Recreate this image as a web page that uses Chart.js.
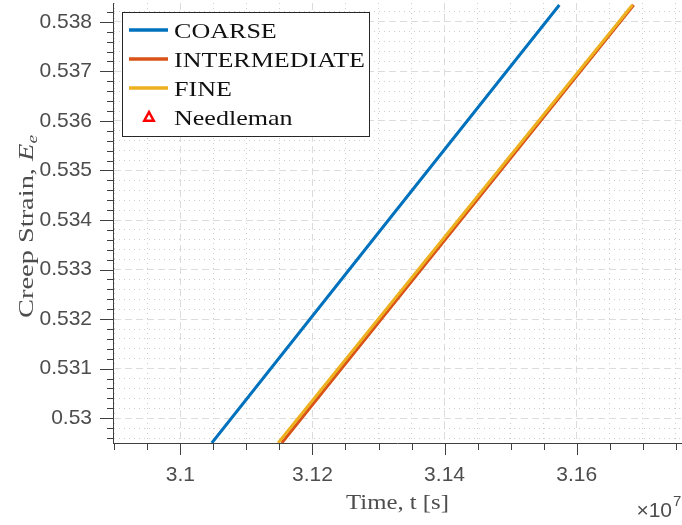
<!DOCTYPE html>
<html>
<head>
<meta charset="utf-8">
<script src="https://cdn.jsdelivr.net/npm/chart.js@4/dist/chart.umd.min.js"></script>
<style>
    html, body { margin: 0; padding: 0; background: #fff; }
    #wrap { width: 682px; height: 525px; }
</style>
</head>
<body>
<div id="wrap"><canvas id="creepChart" width="682" height="525"></canvas></div>
<script>
// creep curves near the end of the run: time [s] vs creep strain
const coarseTime = [31047600, 31315200, 31573800];
const coarseStrain = [0.5295, 0.534, 0.53834];
const intermediateTime = [31153500, 31424700, 31686400];
const intermediateStrain = [0.5295, 0.534, 0.53834];
const fineTime = [31148000, 31421000, 31684400];
const fineStrain = [0.5295, 0.534, 0.53834];
const needlemanTime = [];
const needlemanStrain = [];

const seriesNames = ["COARSE", "INTERMEDIATE", "FINE", "Needleman"];

const xTickValues = [31000000, 31200000, 31400000, 31600000];
const xTickLabels = ["3.1", "3.12", "3.14", "3.16"];
const yTickValues = [0.530, 0.531, 0.532, 0.533, 0.534, 0.535, 0.536, 0.537, 0.538];
const yTickLabels = ["0.53", "0.531", "0.532", "0.533", "0.534", "0.535", "0.536", "0.537", "0.538"];

const X_STEP = 50000;     // minor tick spacing
const Y_STEP = 0.0002;
const AXIS_COLOR = "#404040";
const LABEL_COLOR = "#4d4d4d";
const SERIF = "'Liberation Serif', 'DejaVu Serif', serif";
const SANS = "'Liberation Sans', Arial, sans-serif";

function majorIndex(v, list) {
    return list.findIndex(m => Math.abs(m - v) < Math.abs(m) * 1e-9 + 1e-12);
}
function points(xs, ys) {
    return xs.map((x, i) => ({ x: x, y: ys[i] }));
}
// every minor step inside the axis range
function stepTicks(scale, step) {
    const out = [];
    for (let k = Math.ceil(scale.min / step - 1e-9); k * step <= scale.max + 1e-12; k++) {
        out.push({ value: +(k * step).toFixed(10) });
    }
    scale.ticks = out;
}

function gridColor(majors) {
    return (ctx) => {
        if (!ctx.tick) return "rgba(0,0,0,0)";
        return majorIndex(ctx.tick.value, majors) >= 0 ? "#dcdcdc" : "#cdcdcd";
    };
}
function gridDash(majors) {
    return (ctx) => {
        if (!ctx.tick) return [];
        return majorIndex(ctx.tick.value, majors) >= 0 ? [7, 4] : [1, 4];
    };
}

// draws a string stretched horizontally to a given width
function fitText(ctx, text, x, y, width) {
    const w = ctx.measureText(text).width;
    ctx.save();
    ctx.translate(x, y);
    ctx.scale(width / w, 1);
    ctx.fillText(text, 0, 0);
    ctx.restore();
}

// outward tick marks (long major, short minor)
const tickMarks = {
    id: "tickMarks",
    afterDraw(chart) {
        const ctx = chart.ctx;
        const { left, bottom } = chart.chartArea;
        ctx.save();
        ctx.strokeStyle = AXIS_COLOR;
        ctx.lineWidth = 1;
        ctx.beginPath();
        chart.scales.x.ticks.forEach(t => {
            const px = Math.round(chart.scales.x.getPixelForValue(t.value)) + 0.5;
            const len = majorIndex(t.value, xTickValues) >= 0 ? 12 : 7;
            ctx.moveTo(px, bottom);
            ctx.lineTo(px, bottom + len);
        });
        chart.scales.y.ticks.forEach(t => {
            const py = Math.round(chart.scales.y.getPixelForValue(t.value)) + 0.5;
            const len = majorIndex(t.value, yTickValues) >= 0 ? 13 : 6;
            ctx.moveTo(left, py);
            ctx.lineTo(left - len, py);
        });
        ctx.stroke();
        ctx.restore();
    }
};

// axis titles and the exponent under the x axis
const axisTitles = {
    id: "axisTitles",
    afterDraw(chart) {
        const ctx = chart.ctx;
        ctx.save();
        ctx.fillStyle = LABEL_COLOR;
        ctx.textBaseline = "alphabetic";

        ctx.font = "22px " + SERIF;
        fitText(ctx, "Time, t [s]", 346, 509, 103);

        // Creep Strain, E_e (rotated)
        ctx.translate(33, 226.5);
        ctx.rotate(-Math.PI / 2);
        const target = 183;
        ctx.font = "22px " + SERIF;
        const w1 = ctx.measureText("Creep Strain, ").width;
        ctx.font = "italic 22px " + SERIF;
        const w2 = ctx.measureText("E").width;
        ctx.font = "italic 15px " + SERIF;
        const w3 = ctx.measureText("e").width;
        ctx.scale(target / (w1 + w2 + w3), 1);
        const x0 = -(w1 + w2 + w3) / 2;
        ctx.font = "22px " + SERIF;
        ctx.fillText("Creep Strain, ", x0, 0);
        ctx.font = "italic 22px " + SERIF;
        ctx.fillText("E", x0 + w1, 0);
        ctx.font = "italic 15px " + SERIF;
        ctx.fillText("e", x0 + w1 + w2, 4);
        ctx.restore();

        ctx.save();
        ctx.fillStyle = LABEL_COLOR;
        ctx.font = "21px " + SANS;
        ctx.textAlign = "right";
        ctx.fillText("\u00d710", 672, 517);
        ctx.textAlign = "left";
        ctx.font = "15px " + SANS;
        ctx.fillText("7", 673, 506);
        ctx.restore();
    }
};

// boxed legend in the upper left corner of the axes
const boxLegend = {
    id: "boxLegend",
    afterDatasetsDraw(chart) {
        const ctx = chart.ctx;
        ctx.save();
        ctx.fillStyle = "#fff";
        ctx.fillRect(122.5, 12.5, 247, 124);
        ctx.strokeStyle = "#262626";
        ctx.lineWidth = 1;
        ctx.strokeRect(122.5, 12.5, 247, 124);

        ctx.font = "22px " + SERIF;
        const stretch = 191 / ctx.measureText("INTERMEDIATE").width;
        chart.data.datasets.forEach((ds, i) => {
            const rowY = 30 + i * 29;
            if (ds.showLine === false) {
                const cx = 149, cy = rowY, r = 5;
                ctx.beginPath();
                ctx.moveTo(cx, cy - r);
                ctx.lineTo(cx + r * 0.95, cy + r * 0.75);
                ctx.lineTo(cx - r * 0.95, cy + r * 0.75);
                ctx.closePath();
                ctx.fillStyle = "#fff";
                ctx.fill();
                ctx.strokeStyle = ds.borderColor;
                ctx.lineWidth = 2.5;
                ctx.stroke();
            } else {
                ctx.beginPath();
                ctx.moveTo(129, rowY);
                ctx.lineTo(168, rowY);
                ctx.strokeStyle = ds.borderColor;
                ctx.lineWidth = 3.5;
                ctx.stroke();
            }
            ctx.fillStyle = "#111";
            const w = ctx.measureText(ds.label).width;
            fitText(ctx, ds.label, 174, rowY + 7.5, w * stretch);
        });
        ctx.restore();
    }
};

const lineStyle = { pointRadius: 0, borderWidth: 3, fill: false, clip: 0, tension: 0 };

new Chart(document.getElementById("creepChart"), {
    type: "line",
    data: {
        datasets: [
            Object.assign({ label: seriesNames[0], data: points(coarseTime, coarseStrain),
                borderColor: "#0072BD", order: 2 }, lineStyle),
            Object.assign({ label: seriesNames[1], data: points(intermediateTime, intermediateStrain),
                borderColor: "#D95319", order: 1 }, lineStyle),
            Object.assign({ label: seriesNames[2], data: points(fineTime, fineStrain),
                borderColor: "#EDB120", order: 0 }, lineStyle),
            { label: seriesNames[3], data: points(needlemanTime, needlemanStrain),
                showLine: false, pointStyle: "triangle", pointRadius: 5, borderWidth: 2,
                borderColor: "#ff0000", backgroundColor: "#fff", order: 0 }
        ]
    },
    options: {
        responsive: false,
        animation: false,
        events: [],
        layout: { padding: { top: 3, right: 1, left: 0, bottom: 0 } },
        plugins: { legend: { display: false }, tooltip: { enabled: false } },
        scales: {
            x: {
                type: "linear",
                min: 30898000,
                max: 31758000,
                afterBuildTicks: (scale) => stepTicks(scale, X_STEP),
                afterFit(scale) { scale.height = 82; scale.paddingLeft = 0; scale.paddingRight = 0; },
                ticks: {
                    autoSkip: false,
                    maxRotation: 0,
                    padding: 20,
                    color: LABEL_COLOR,
                    font: { family: SANS, size: 21 },
                    callback: (v) => {
                        const k = majorIndex(v, xTickValues);
                        return k >= 0 ? xTickLabels[k] : "";
                    }
                },
                grid: { drawTicks: false, color: gridColor(xTickValues), lineWidth: 1 },
                border: { display: true, color: AXIS_COLOR, width: 1, dash: gridDash(xTickValues) }
            },
            y: {
                type: "linear",
                min: 0.5295,
                max: 0.53838,
                afterBuildTicks: (scale) => stepTicks(scale, Y_STEP),
                afterFit(scale) { scale.width = 113; scale.paddingTop = 0; scale.paddingBottom = 0; },
                ticks: {
                    autoSkip: false,
                    padding: 21,
                    color: LABEL_COLOR,
                    font: { family: SANS, size: 21 },
                    callback: (v) => {
                        const k = majorIndex(v, yTickValues);
                        return k >= 0 ? yTickLabels[k] : "";
                    }
                },
                grid: { drawTicks: false, color: gridColor(yTickValues), lineWidth: 1 },
                border: { display: true, color: AXIS_COLOR, width: 1, dash: gridDash(yTickValues) }
            }
        }
    },
    plugins: [tickMarks, boxLegend, axisTitles]
});
</script>
</body>
</html>
